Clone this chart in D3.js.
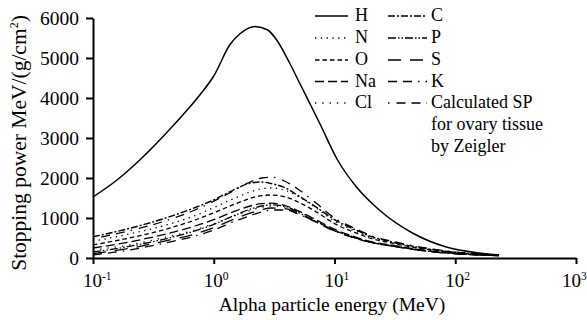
<!DOCTYPE html>
<html>
<head>
<meta charset="utf-8">
<script src="https://cdn.jsdelivr.net/npm/d3@7"></script>
<style>
  body { margin: 0; background: #fff; }
  svg { display: block; }
  svg text { font-family: "Liberation Serif", "Times New Roman", Times, serif !important; fill: #000; }
</style>
</head>
<body>
<div id="chart"></div>
<script>
const energies = [0.1, 0.2, 0.4, 0.7, 1, 1.5, 2, 2.5, 3, 4, 5, 7, 10, 15, 20, 30, 50, 100, 230];

// hydrogen is read on its own grid, it is much taller
const hEnergies = [0.1, 0.158, 0.244, 0.458, 0.766, 1.0, 1.36, 1.64, 2.2, 2.8, 3.32, 4.25, 5.14, 7.52, 10.6, 15.2, 23.5, 44.2, 84.3, 158, 231];
const hValues = [1525, 1950, 2450, 3300, 4075, 4550, 5330, 5600, 5790, 5700, 5450, 4875, 4375, 3375, 2450, 1775, 1200, 625, 275, 125, 75];

const cValues = [530, 740, 1000, 1260, 1450, 1720, 1870, 1900, 1860, 1740, 1560, 1280, 960, 700, 540, 400, 265, 145, 75];
const nValues = [420, 600, 820, 1060, 1260, 1500, 1650, 1730, 1750, 1680, 1540, 1260, 920, 670, 520, 390, 255, 140, 72];
const oValues = [330, 500, 720, 950, 1130, 1350, 1490, 1560, 1575, 1520, 1400, 1160, 860, 630, 490, 370, 245, 135, 70];
const naValues = [250, 400, 600, 800, 960, 1170, 1300, 1360, 1370, 1300, 1180, 960, 720, 520, 410, 320, 210, 115, 62];
const clValues = [200, 330, 520, 700, 860, 1060, 1190, 1270, 1300, 1270, 1160, 950, 700, 510, 400, 310, 205, 112, 60];
const pValues = [150, 290, 480, 680, 840, 1070, 1220, 1300, 1330, 1280, 1140, 920, 690, 500, 395, 305, 200, 110, 60];
const sValues = [110, 240, 430, 600, 760, 980, 1120, 1210, 1250, 1230, 1110, 910, 680, 495, 390, 300, 198, 108, 58];
const kValues = [80, 200, 380, 550, 700, 920, 1060, 1150, 1200, 1200, 1100, 900, 670, 490, 385, 298, 195, 106, 58];
const calcValues = [480, 680, 930, 1200, 1420, 1700, 1900, 2000, 2020, 1900, 1720, 1380, 1000, 730, 560, 420, 280, 150, 80];

const yTicks = [0, 1000, 2000, 3000, 4000, 5000, 6000];
const xTicks = [0.1, 1, 10, 100, 1000];
const xTickExp = ["-1", "0", "1", "2", "3"];

// legend order: column 1 then column 2
const series = [
  { name: "H", x: hEnergies, y: hValues, dash: null, w: 1.5 },
  { name: "N", x: energies, y: nValues, dash: "1.3,4.5", w: 1.3 },
  { name: "O", x: energies, y: oValues, dash: "4.5,3", w: 1.3 },
  { name: "Na", x: energies, y: naValues, dash: "9,4", w: 1.3 },
  { name: "Cl", x: energies, y: clValues, dash: "1.3,6", w: 1.3 },
  { name: "C", x: energies, y: cValues, dash: "7,2,2,2", w: 1.4 },
  { name: "P", x: energies, y: pValues, dash: "8,2,1.5,2,1.5,2", w: 1.3 },
  { name: "S", x: energies, y: sValues, dash: "13,9", w: 1.3 },
  { name: "K", x: energies, y: kValues, dash: "9,6,9,6,1.5,6", w: 1.3 },
  { name: "Calculated SP", x: energies, y: calcValues, dash: "1.5,7,9,6,9,6", w: 1.3 }
];

const W = 587, H = 320;
const svg = d3.select("#chart").append("svg").attr("width", W).attr("height", H);

const x = d3.scaleLog().domain([0.1, 1000]).range([93, 576]);
const y = d3.scaleLinear().domain([0, 6000]).range([258, 18]);

const line = d3.line()
  .x(d => x(d[0]))
  .y(d => y(d[1]))
  .curve(d3.curveMonotoneX);

// curves
svg.append("g")
  .selectAll("path")
  .data(series)
  .enter().append("path")
  .attr("d", s => line(s.x.map((e, i) => [e, s.y[i]])))
  .attr("fill", "none")
  .attr("stroke", "#000")
  .attr("stroke-width", s => s.w)
  .attr("stroke-dasharray", s => s.dash);

// y axis
const yAxis = svg.append("g").attr("transform", "translate(93,0)")
  .call(d3.axisLeft(y).tickValues(yTicks).tickFormat(d3.format("d")).tickSize(7).tickSizeOuter(0));
yAxis.select(".domain").attr("stroke-width", 2);
yAxis.selectAll(".tick line").attr("stroke-width", 2);
yAxis.selectAll(".tick text")
  .attr("x", -14).attr("dy", "0.34em")
  .style("font-size", "19.5px");

// x axis
const xAxis = svg.append("g").attr("transform", "translate(0,258)")
  .call(d3.axisBottom(x).tickValues(xTicks).tickFormat("").tickSize(6).tickSizeOuter(0));
xAxis.select(".domain").attr("stroke-width", 2);
xAxis.selectAll(".tick line").attr("stroke-width", 2);

const xLab = svg.append("g").selectAll("text")
  .data(xTicks)
  .enter().append("text")
  .attr("x", d => Math.min(x(d) - 10, 562))
  .attr("y", 287)
  .style("font-size", "19px");
xLab.append("tspan").text("10");
xLab.append("tspan")
  .attr("dy", -7)
  .style("font-size", "11.5px")
  .text((d, i) => xTickExp[i]);

// axis titles
svg.append("text")
  .attr("x", 332).attr("y", 311)
  .attr("text-anchor", "middle")
  .style("font-size", "19.5px")
  .text("Alpha particle energy (MeV)");

const yt = svg.append("text")
  .attr("transform", "translate(26,143) rotate(-90)")
  .attr("text-anchor", "middle")
  .style("font-size", "21.5px");
yt.append("tspan").text("Stopping power MeV/(g/cm");
yt.append("tspan").attr("dy", -8).style("font-size", "12px").text("2");
yt.append("tspan").attr("dy", 8).text(")");

// legend
const rowY = [21, 43, 65, 86.5, 108];
const legend = svg.append("g");
series.forEach((s, i) => {
  const col = i < 5 ? 0 : 1;
  const row = i % 5;
  const x0 = col === 0 ? 315 : 388;
  const x1 = col === 0 ? 348 : 427;
  const tx = col === 0 ? 355 : 431;
  legend.append("line")
    .attr("x1", x0).attr("x2", x1)
    .attr("y1", rowY[row] - 5).attr("y2", rowY[row] - 5)
    .attr("stroke", "#000")
    .attr("stroke-width", s.w)
    .attr("stroke-dasharray", s.dash);
  legend.append("text")
    .attr("x", tx).attr("y", rowY[row])
    .style("font-size", "18px")
    .text(s.name);
});
legend.append("text").attr("x", 431).attr("y", 130).style("font-size", "18px").text("for ovary tissue");
legend.append("text").attr("x", 431).attr("y", 152).style("font-size", "18px").text("by Zeigler");
</script>
</body>
</html>
